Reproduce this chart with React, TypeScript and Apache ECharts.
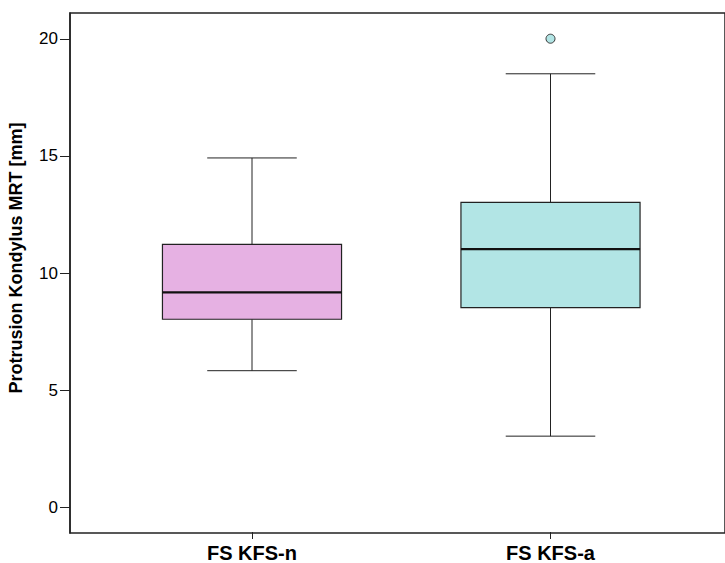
import React, { useEffect, useRef } from "react";
import * as echarts from "echarts";

// Group labels on the x axis
const categories = ["FS KFS-n", "FS KFS-a"];
// Five-number summaries per group: [min, Q1, median, Q3, max] in mm
const boxMin = [5.8, 3.0];
const boxQ1 = [8.0, 8.5];
const boxMedian = [9.15, 11.0];
const boxQ3 = [11.2, 13.0];
const boxMax = [14.9, 18.5];
// Outliers: [group index, value]
const outlierPoints = [[1, 20.0]];
// Tick values on the y axis
const yTicks = [0, 5, 10, 15, 20];
const yTitle = "Protrusion Kondylus MRT [mm]";
const boxFills = ["#E6B1E3", "#B2E5E5"];

const Y_MIN = -1.1;
const Y_MAX = 21.1;
const FONT = "'Liberation Sans', Arial, sans-serif";

export default function App() {
  const ref = useRef<HTMLDivElement>(null);

  useEffect(() => {
    if (!ref.current) return;
    const chart = echarts.init(ref.current, undefined, { renderer: "svg" });

    const boxData = categories.map((_, i) => [
      i,
      boxMin[i],
      boxQ1[i],
      boxMedian[i],
      boxQ3[i],
      boxMax[i],
    ]);

    const option: any = {
      animation: false,
      backgroundColor: "#ffffff",
      grid: [
        {
          // outer frame carrying the y axis
          left: 70,
          top: 13,
          width: 680,
          height: 520,
          show: true,
          borderColor: "#222",
          borderWidth: 1.5,
          backgroundColor: "transparent",
        },
        {
          // band layout for the two boxes
          left: 102.75,
          top: 13,
          width: 597,
          height: 520,
        },
      ],
      graphic: [
        {
          // vertical axis title
          type: "text",
          x: 16,
          y: 258,
          rotation: Math.PI / 2,
          style: {
            text: yTitle,
            fontFamily: FONT,
            fontSize: 18,
            fontWeight: "bold",
            fill: "#000",
            align: "center",
            verticalAlign: "middle",
          },
        },
      ],
      xAxis: [
        {
          gridIndex: 0,
          type: "value",
          min: 0,
          max: 1,
          show: false,
        },
        {
          gridIndex: 1,
          type: "category",
          data: categories,
          boundaryGap: true,
          position: "bottom",
          axisLine: { show: false, onZero: false },
          axisTick: {
            show: true,
            alignWithLabel: true,
            length: 7,
            lineStyle: { color: "#222", width: 1 },
          },
          axisLabel: {
            fontFamily: FONT,
            fontSize: 20,
            fontWeight: "bold",
            color: "#000",
            margin: 11,
          },
          splitLine: { show: false },
        },
      ],
      yAxis: [
        {
          gridIndex: 0,
          type: "value",
          min: Y_MIN,
          max: Y_MAX,
          axisLine: { show: true, lineStyle: { color: "#222", width: 1.5 } },
          axisTick: {
            show: true,
            length: 10,
            customValues: yTicks,
            lineStyle: { color: "#222", width: 1 },
          },
          axisLabel: {
            customValues: yTicks,
            fontFamily: FONT,
            fontSize: 17,
            color: "#000",
            margin: 12,
          },
          splitLine: { show: false },
        },
        {
          gridIndex: 1,
          type: "value",
          min: Y_MIN,
          max: Y_MAX,
          show: false,
        },
      ],
      series: [
        {
          type: "custom",
          xAxisIndex: 1,
          yAxisIndex: 1,
          data: boxData,
          encode: { x: 0, y: [1, 2, 3, 4, 5] },
          renderItem: (params: any, api: any) => {
            const idx = api.value(0);
            const cx = api.coord([idx, 0])[0];
            const band = api.size([1, 0])[0];
            const bw = band * 0.6;
            const half = bw / 2;
            const capHalf = bw / 4;
            const y = (v: number) => api.coord([idx, v])[1];
            const yMin = y(api.value(1));
            const yQ1 = y(api.value(2));
            const yMed = y(api.value(3));
            const yQ3 = y(api.value(4));
            const yMax = y(api.value(5));
            const line = { stroke: "#222", lineWidth: 1 };
            return {
              type: "group",
              children: [
                {
                  type: "line",
                  shape: { x1: cx, y1: yMax, x2: cx, y2: yQ3 },
                  style: line,
                },
                {
                  type: "line",
                  shape: { x1: cx, y1: yQ1, x2: cx, y2: yMin },
                  style: line,
                },
                {
                  type: "line",
                  shape: { x1: cx - capHalf, y1: yMax, x2: cx + capHalf, y2: yMax },
                  style: line,
                },
                {
                  type: "line",
                  shape: { x1: cx - capHalf, y1: yMin, x2: cx + capHalf, y2: yMin },
                  style: line,
                },
                {
                  type: "rect",
                  shape: { x: cx - half, y: yQ3, width: bw, height: yQ1 - yQ3 },
                  style: { fill: boxFills[idx], stroke: "#222", lineWidth: 1.2 },
                },
                {
                  type: "line",
                  shape: { x1: cx - half, y1: yMed, x2: cx + half, y2: yMed },
                  style: { stroke: "#111", lineWidth: 2.2 },
                },
              ],
            };
          },
        },
        {
          type: "scatter",
          xAxisIndex: 1,
          yAxisIndex: 1,
          data: outlierPoints,
          symbol: "circle",
          symbolSize: 9,
          itemStyle: {
            color: boxFills[1],
            borderColor: "#333",
            borderWidth: 1,
            opacity: 1,
          },
        },
      ],
    };

    chart.setOption(option);
    return () => chart.dispose();
  }, []);

  return (
    <div
      ref={ref}
      style={{ position: "absolute", left: 0, top: 0, width: 725, height: 563, background: "#fff" }}
    />
  );
}
